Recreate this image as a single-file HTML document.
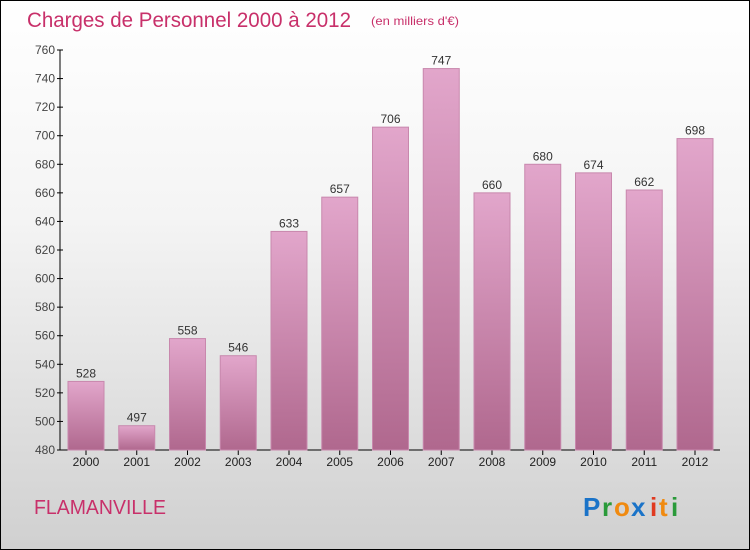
<!DOCTYPE html>
<html><head><meta charset="utf-8"><style>
body{margin:0;width:750px;height:550px;overflow:hidden;font-family:"Liberation Sans",sans-serif}
#frame{position:absolute;left:0;top:0;width:748px;height:548px;border:1px solid #000;background:linear-gradient(#ffffff 0%,#f4f4f4 40%,#d0d0d0 100%)}
</style></head><body>
<div id="frame">
<svg width="750" height="550" style="position:absolute;left:-1px;top:-1px">
<defs><linearGradient id="bg" x1="0" y1="0" x2="0" y2="1"><stop offset="0" stop-color="#e2a6cb"/><stop offset="1" stop-color="#b0688e"/></linearGradient></defs>
<text x="27" y="27" font-size="21" fill="#c8306a" textLength="324" lengthAdjust="spacingAndGlyphs">Charges de Personnel 2000 à 2012</text>
<text x="371" y="25" font-size="12" fill="#c8306a" textLength="88" lengthAdjust="spacingAndGlyphs">(en milliers d'€)</text>
<g id="axes"></g><g id="bars"></g>
<text x="34" y="514" font-size="20" fill="#c8306a" textLength="132" lengthAdjust="spacingAndGlyphs">FLAMANVILLE</text>
<g font-size="26" font-weight="bold">
<text x="583" y="516" fill="#1a73c8">P</text><text x="602" y="516" fill="#2a9a3a">r</text><text x="614" y="516" fill="#f08a10">o</text><text x="631" y="516" fill="#1a73c8">x</text><text x="650" y="516" fill="#e03a20">i</text><text x="659" y="516" fill="#f08a10">t</text><text x="671" y="516" fill="#2a9a3a">i</text>
</g>
</svg></div>
<script>
const categories=["2000","2001","2002","2003","2004","2005","2006","2007","2008","2009","2010","2011","2012"];
const values=[528,497,558,546,633,657,706,747,660,680,674,662,698];
const ticks=[480,500,520,540,560,580,600,620,640,660,680,700,720,740,760];
const NS="http://www.w3.org/2000/svg";
const y=v=>450-(v-480)*400/280;
const x=i=>86+i*50.75;
function mk(t,a,p){const e=document.createElementNS(NS,t);for(const k in a)e.setAttribute(k,a[k]);p.appendChild(e);return e;}
const ax=document.getElementById('axes'),bg=document.getElementById('bars');
const yl=mk('line',{x1:60,x2:60,y1:50,y2:450,stroke:'#000'},ax);


const xl=mk('line',{x1:60,x2:720,y1:450,y2:450,stroke:'#000'},ax);


ticks.forEach(t=>{
 mk('line',{x1:57,x2:63,y1:y(t),y2:y(t),stroke:'#000'},ax);
 const tx=mk('text',{x:55,y:y(t)+4,'font-size':12,fill:'#444','text-anchor':'end'},ax);tx.textContent=t;
 
 
});
categories.forEach((c,i)=>{
 const cx=x(i);
 mk('line',{x1:cx,x2:cx,y1:450,y2:455,stroke:'#000'},ax);
 const tl=mk('text',{x:cx,y:466,'font-size':12,fill:'#222','text-anchor':'middle'},ax);tl.textContent=c;
 
 
 const r=mk('rect',{x:cx-18,y:y(values[i]),width:36,height:450-y(values[i]),fill:'url(#bg)',stroke:'#c888ad'},bg);
 
 
 const vl=mk('text',{x:cx,y:y(values[i])-4,'font-size':12,fill:'#333','text-anchor':'middle'},bg);vl.textContent=values[i];
 
 
});
</script>
</body></html>
